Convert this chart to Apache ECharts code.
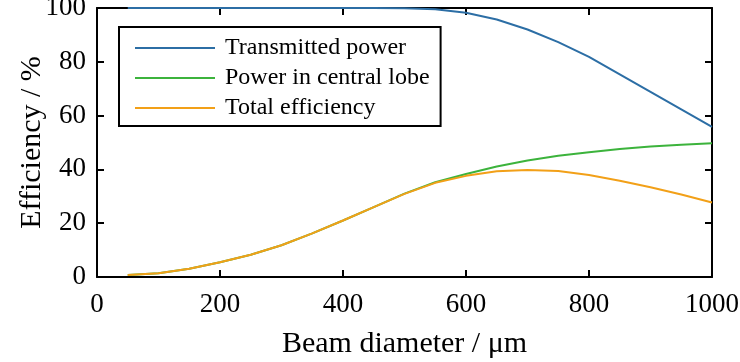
<!DOCTYPE html>
<html>
<head>
<meta charset="utf-8">
<script src="https://cdn.jsdelivr.net/npm/echarts@6/dist/echarts.min.js"></script>
<style>html,body{margin:0;padding:0;background:#fff}#c{width:740px;height:362px}</style>
</head>
<body>
<div id="c"></div>
<script>
var beamDiameter = [50,100,150,200,250,300,350,400,450,500,550,600,650,700,750,800,850,900,950,1000];
var transmittedPower = [100,100,100,100,100,100,100,100,100,99.9,99.5,98.2,95.7,92,87.3,81.8,75.3,68.8,62.3,55.8];
var centralLobePower = [0.7,1.4,3.1,5.5,8.3,11.8,16.2,21,26,31,35.2,38.3,41.1,43.3,45.1,46.4,47.6,48.5,49.2,49.7];
var totalEfficiency = [0.7,1.4,3.1,5.5,8.3,11.8,16.2,21,26,30.9,35,37.6,39.3,39.8,39.4,37.9,35.8,33.4,30.7,27.7];
var seriesNames = ['Transmitted power','Power in central lobe','Total efficiency'];
var colors = ['#2c6ea5','#3cb33c','#f2a018'];

function pairs(ys){ return beamDiameter.map(function(x,i){return [x, ys[i]];}); }
var font = 'Liberation Serif, Times New Roman, serif';
function axLine(){ return {show:true, onZero:false, lineStyle:{color:'#000', width:2}}; }
function axTick(){ return {show:true, inside:true, length:7, lineStyle:{color:'#000', width:2}}; }

var chart = echarts.init(document.getElementById('c'), null, {renderer:'canvas'});
chart.setOption({
  animation:false,
  backgroundColor:'#fff',
  textStyle:{fontFamily:font},
  grid:{left:97, right:28, top:8, bottom:85, containLabel:false, outerBoundsMode:'none'},
  legend:{
    orient:'vertical', left:119, top:27,
    backgroundColor:'#fff',
    borderColor:'#000', borderWidth:2, borderRadius:0,
    padding:[9,11,6,16],
    itemGap:6, itemWidth:80, itemHeight:2,
    icon:'rect',
    textStyle:{fontFamily:font, fontSize:24, color:'#000', lineHeight:24, padding:[0,0,0,5]},
    data:seriesNames
  },
  xAxis:[{
    type:'value', min:0, max:1000, interval:200,
    name:'Beam diameter / μm', nameLocation:'middle', nameGap:52, nameMoveOverlap:false,
    nameTextStyle:{fontFamily:font, fontSize:30, color:'#000'},
    axisLine:axLine(), axisTick:axTick(),
    axisLabel:{fontFamily:font, fontSize:27, color:'#000', margin:14, formatter:function(v){return String(v);}},
    splitLine:{show:false}
  },{
    type:'value', min:0, max:1000, interval:200, position:'top',
    axisLine:axLine(), axisTick:axTick(), axisLabel:{show:false}, splitLine:{show:false}
  }],
  yAxis:[{
    type:'value', min:0, max:100, interval:20,
    name:'Efficiency / %', nameLocation:'middle', nameGap:50, nameMoveOverlap:false,
    nameTextStyle:{fontFamily:font, fontSize:30, color:'#000'},
    axisLine:axLine(), axisTick:axTick(),
    axisLabel:{fontFamily:font, fontSize:27, color:'#000', margin:11},
    splitLine:{show:false}
  },{
    type:'value', min:0, max:100, interval:20, position:'right',
    axisLine:axLine(), axisTick:axTick(), axisLabel:{show:false}, splitLine:{show:false}
  }],
  series:[
    {name:seriesNames[0], type:'line', data:pairs(transmittedPower), showSymbol:false, symbol:'none', color:colors[0], lineStyle:{width:2, color:colors[0]}, itemStyle:{color:colors[0]}, z:2},
    {name:seriesNames[1], type:'line', data:pairs(centralLobePower), showSymbol:false, symbol:'none', color:colors[1], lineStyle:{width:2, color:colors[1]}, itemStyle:{color:colors[1]}, z:3},
    {name:seriesNames[2], type:'line', data:pairs(totalEfficiency), showSymbol:false, symbol:'none', color:colors[2], lineStyle:{width:2, color:colors[2]}, itemStyle:{color:colors[2]}, z:4}
  ]
});
</script>
</body>
</html>
